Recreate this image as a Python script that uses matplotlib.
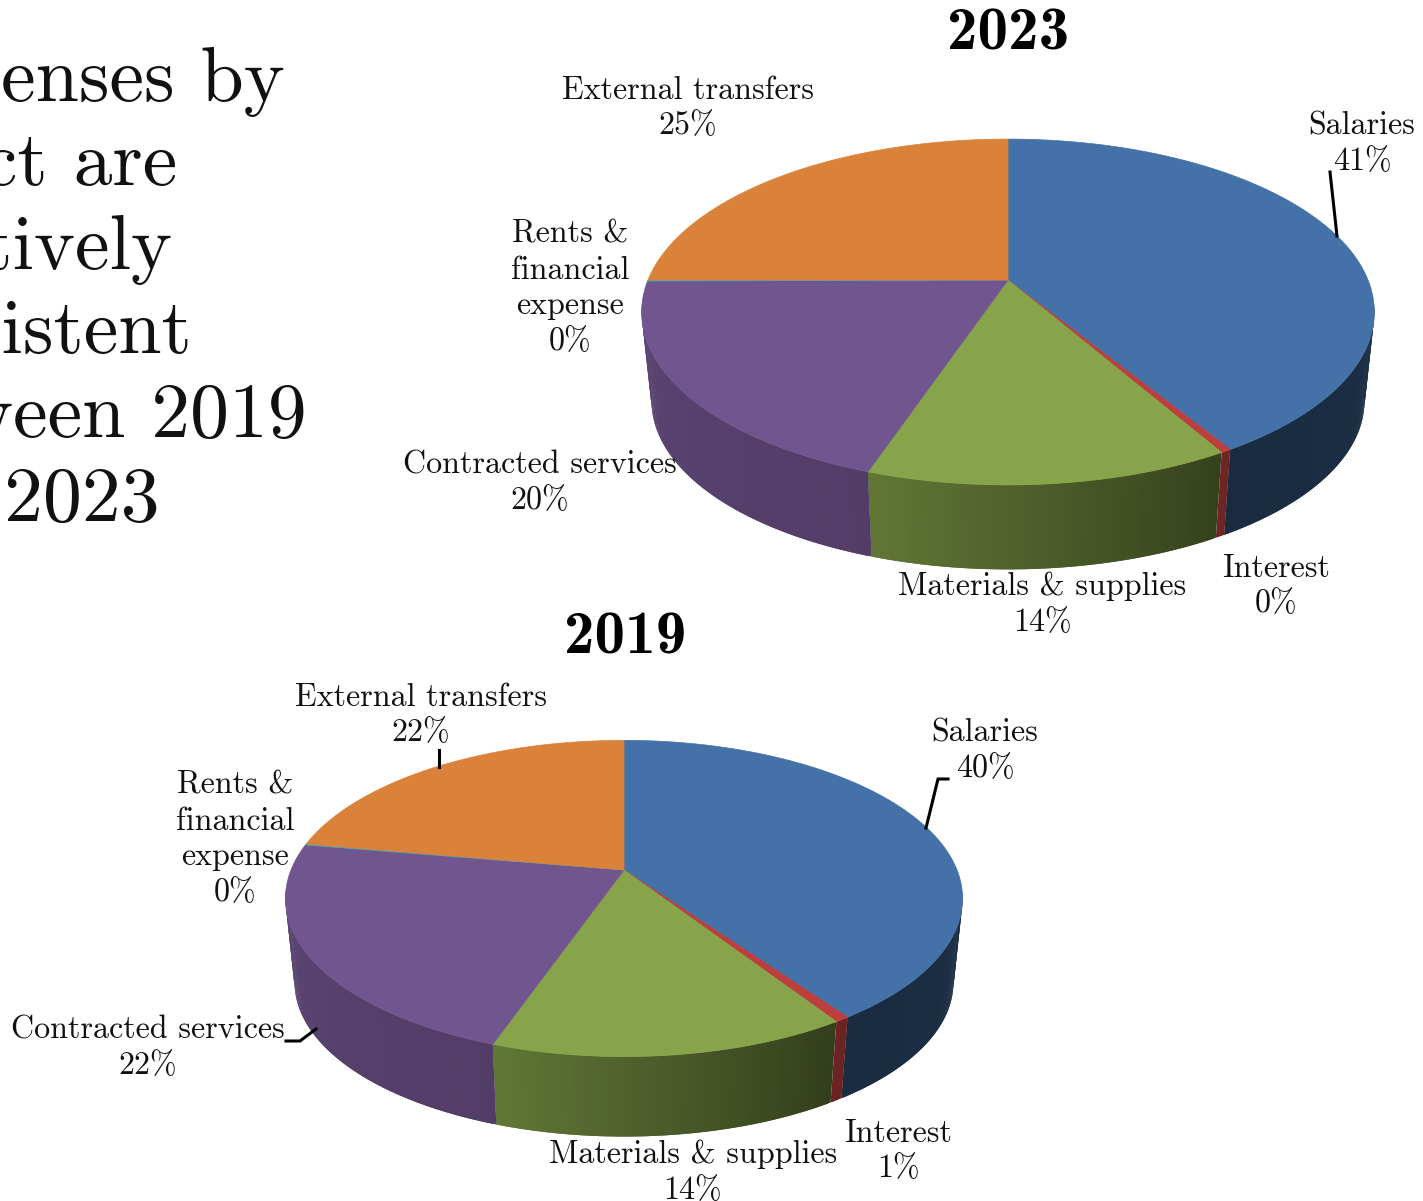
import numpy as np
import matplotlib
matplotlib.use("Agg")
from matplotlib import pyplot as plt
from matplotlib.patches import Polygon

categories = ['Salaries', 'Interest', 'Materials & supplies', 'Contracted services',
              'Rents &\nfinancial\nexpense', 'External transfers']
values_2023 = [41.3, 0.4, 13.5, 19.7, 0.1, 25]
values_2019 = [40.3, 0.6, 14.4, 22.4, 0.1, 22.2]
colors = ['#4472a8', '#bd3f3d', '#87a44a', '#71558f', '#3fa9b5', '#db823a']
wall_boost = [1, 1.5, 1, 1, 1, 1]

headline = ['Expenses by', 'product are', 'relatively', 'consistent', 'between 2019', 'and 2023']
headline_right = [285, 177, 172, 192, 307, 160]
headline_base = [101, 185, 269, 353, 437, 521]

# pie geometry in pixels: apex x, apex y, half width, depth scale, perspective, wall drop
pie_2023 = dict(cx=1008, cy=280, a=360, b=167, p=-0.185, drop=90, shrink=0.973)
pie_2019 = dict(cx=624, cy=870, a=333, b=153, p=-0.18, drop=85, shrink=0.973)

labels_2023 = [(1362, 144), (1276, 586), (1042, 604), (540, 483), (570, 288), (688, 108)]
labels_2019 = [(985, 751), (898, 1151), (693, 1172), (148, 1048), (235, 839), (421, 715)]

leaders = [
    [(1330, 172), (1337, 236)],
    [(948, 779), (938, 779), (926, 828)],
    [(439, 750), (439, 767)],
    [(286, 1041), (300, 1041), (316, 1029)],
]

FONT = 'cmr10'
plt.rcParams['axes.formatter.use_mathtext'] = True


def project(theta, g):
    # theta is degrees clockwise from the top of the pie
    t = np.radians(theta)
    x, y = np.sin(t), -np.cos(t)
    w = 1 + g['p'] * y
    return g['cx'] + g['a'] * x / w, g['cy'] + g['b'] * y / w


def lower_rim(px, py, g):
    s = g['shrink']
    return g['cx'] + s * (px - g['cx']), g['cy'] + g['drop'] + s * (py - g['cy'])


def wall_shade(theta):
    return np.interp(theta, [85, 148, 198, 275], [0.42, 0.38, 0.72, 0.82])


def draw_pie(ax, values, g):
    vals = np.array(values, dtype=float)
    edges = np.concatenate([[0], np.cumsum(vals) / vals.sum() * 360])

    # outer wall first, split into thin strips so the shading can vary
    for i, col in enumerate(colors):
        lo, hi = max(edges[i], 98), min(edges[i + 1], 262)
        if hi <= lo:
            continue
        steps = np.linspace(lo, hi, max(int((hi - lo) * 2), 2))
        base = np.array(matplotlib.colors.to_rgb(col))
        for t0, t1 in zip(steps[:-1], steps[1:]):
            # each strip runs on a little under the next one to hide the seams
            t_end = min(t1 + 0.5, hi)
            ends = np.linspace(t0, t_end, 4)
            xs, ys = project(ends, g)
            xb, yb = lower_rim(xs, ys, g)
            pts = list(zip(xs, ys)) + list(zip(xb[::-1], yb[::-1]))
            shade = np.clip(base * wall_shade((t0 + t1) / 2) * wall_boost[i], 0, 1)
            ax.add_patch(Polygon(pts, facecolor=shade, edgecolor='none'))

    # top face
    for i, col in enumerate(colors):
        steps = np.linspace(edges[i], edges[i + 1], max(int((edges[i + 1] - edges[i]) * 2), 4))
        xs, ys = project(steps, g)
        pts = [(g['cx'], g['cy'])] + list(zip(xs, ys))
        ax.add_patch(Polygon(pts, facecolor=col, edgecolor=col, lw=0.5, zorder=3))


def draw_labels(ax, values, places):
    vals = np.array(values, dtype=float)
    shares = vals / vals.sum() * 100
    for name, share, (x, y) in zip(categories, shares, places):
        ax.text(x, y, f'{name}\n{share:.0f}%', ha='center', va='center', family=FONT,
                fontsize=23.1, linespacing=1.3, color='#111111', zorder=5)


fig = plt.figure(figsize=(14.23, 12.01), dpi=100)
ax = fig.add_axes([0, 0, 1, 1])
ax.set_xlim(0, 1423)
ax.set_ylim(1201, 0)
ax.axis('off')

draw_pie(ax, values_2023, pie_2023)
draw_pie(ax, values_2019, pie_2019)
draw_labels(ax, values_2023, labels_2023)
draw_labels(ax, values_2019, labels_2019)

ax.text(1008, 34, '2023', ha='center', va='center', family='cmb10', fontsize=44, color='black')
ax.text(625, 638, '2019', ha='center', va='center', family='cmb10', fontsize=44, color='black')

for pts in leaders:
    xs, ys = zip(*pts)
    ax.plot(xs, ys, color='black', lw=2.2, solid_joinstyle='miter', zorder=6)

for line, x, y in zip(headline, headline_right, headline_base):
    ax.text(x, y, line, ha='right', va='baseline', family=FONT, fontsize=56, color='#111111')

fig.savefig('out.png', dpi=100)
